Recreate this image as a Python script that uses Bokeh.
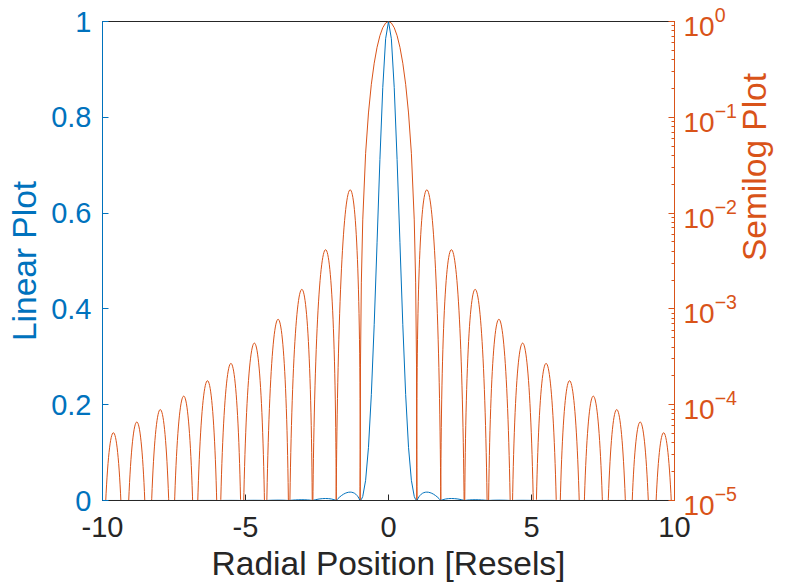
import math
import numpy as np
from bokeh.plotting import figure
from bokeh.models import Range1d, LinearAxis, LogAxis, LogScale, FixedTicker, LogTicker
from bokeh.embed import file_html
from bokeh.resources import INLINE

# ---- data (Airy pattern, intensity vs radial position in resels) ----
# central lobe samples (shared by both curves)
main_x = [-1.00, -0.98, -0.95, -0.90, -0.80, -0.70, -0.60, -0.50, -0.40, -0.30, -0.20, -0.10, 0.00,
          0.10, 0.20, 0.30, 0.40, 0.50, 0.60, 0.70, 0.80, 0.90, 0.95, 0.98, 1.00]
main_i = [1e-8, 2.6e-4, 1.87e-3, 8.5e-3, 0.0421, 0.111, 0.221, 0.367, 0.538, 0.712, 0.862, 0.964, 1.0,
          0.964, 0.862, 0.712, 0.538, 0.367, 0.221, 0.111, 0.0421, 8.5e-3, 1.87e-3, 2.6e-4, 1e-8]

# side lobes: left zero, right zero, peak position, peak intensity
lobe_x0 = [-10.04, -9.22, -8.40, -7.58, -6.76, -5.94, -5.12, -4.30, -3.48, -2.66, -1.83,
           1.00, 1.83, 2.66, 3.48, 4.30, 5.12, 5.94, 6.76, 7.58, 8.40, 9.22]
lobe_x1 = [-9.22, -8.40, -7.58, -6.76, -5.94, -5.12, -4.30, -3.48, -2.66, -1.83, -1.00,
           1.83, 2.66, 3.48, 4.30, 5.12, 5.94, 6.76, 7.58, 8.40, 9.22, 10.04]
lobe_xp = [-9.62, -8.80, -7.98, -7.16, -6.33, -5.51, -4.69, -3.86, -3.03, -2.20, -1.34,
           1.34, 2.20, 3.03, 3.86, 4.69, 5.51, 6.33, 7.16, 7.98, 8.80, 9.62]
lobe_peak = [5.1e-5, 6.6e-5, 8.9e-5, 1.23e-4, 1.78e-4, 2.7e-4, 4.4e-4, 7.8e-4, 1.6e-3, 4.15e-3, 1.75e-2,
             1.75e-2, 4.15e-3, 1.6e-3, 7.8e-4, 4.4e-4, 2.7e-4, 1.78e-4, 1.23e-4, 8.9e-5, 6.6e-5, 5.1e-5]

x_ticks = [-10, -5, 0, 5, 10]
x_tick_labels = ["-10", "-5", "0", "5", "10"]
y_ticks = [0, 0.2, 0.4, 0.6, 0.8, 1.0]

BLUE = "#0072BD"
ORANGE = "#D95319"
DARK = "#262626"
FONT = "Liberation Sans"
TICK_FS = "29px"
LABEL_FS = "33.5px"

W, H = 794, 587
FRAME_L, FRAME_R = 102, 685
p = figure(width=W, height=H, x_range=Range1d(-10, 10), y_range=Range1d(0, 1),
           output_backend="svg", toolbar_location=None,
           min_border_left=FRAME_L, min_border_right=W - FRAME_R, min_border_top=21, min_border_bottom=H - 500,
           x_axis_location=None, y_axis_location=None)
p.extra_y_ranges = {"log": Range1d(1e-5, 1)}
p.extra_y_scales = {"log": LogScale()}
p.grid.visible = False
p.outline_line_color = DARK
p.outline_line_width = 1
p.background_fill_color = "white"
p.border_fill_color = "white"

# axes
xa = LinearAxis(ticker=FixedTicker(ticks=x_ticks), axis_label="Radial Position [Resels]")
xa.major_label_overrides = {t: s for t, s in zip(x_ticks, x_tick_labels)}
ya = LinearAxis(ticker=FixedTicker(ticks=y_ticks), axis_label="Linear Plot")
ra = LogAxis(y_range_name="log", ticker=LogTicker(num_minor_ticks=10), axis_label="Semilog Plot")

for ax, col in ((xa, DARK), (ya, BLUE), (ra, ORANGE)):
    ax.axis_line_color = col
    ax.axis_line_width = 1
    ax.major_tick_line_color = col
    ax.major_tick_in = 6
    ax.major_tick_out = 0
    ax.minor_tick_line_color = None
    ax.major_label_text_color = col
    ax.major_label_text_font = FONT
    ax.major_label_text_font_size = TICK_FS
    ax.axis_label_text_color = col
    ax.axis_label_text_font = FONT
    ax.axis_label_text_font_size = LABEL_FS
    ax.axis_label_text_font_style = "normal"
    ax.major_label_standoff = 11
    ax.axis_label_standoff = 3

ya.axis_label_standoff = 5
ra.minor_tick_line_color = ORANGE
ra.minor_tick_in = 3
ra.minor_tick_out = 0
# right title reads bottom-to-top (it is centred on its standoff position)
ra.axis_label_orientation = math.pi / 2
ra.axis_label_standoff = 15
ra.major_label_standoff = 9
ra.major_label_text_font_size = "28px"
xa.major_label_standoff = 16
xa.axis_label_standoff = 5

p.add_layout(xa, "below")
p.add_layout(ya, "left")
p.add_layout(ra, "right")

# ---- curves ----
x0 = np.array(lobe_x0)
x1 = np.array(lobe_x1)
xp = np.array(lobe_xp)
pk = np.array(lobe_peak)
shift = (4.0 / 3.0) * (xp - (x0 + x1) / 2.0)
depth = 10 ** 3.3

# semilog (orange, right axis)
p.bezier(x0=x0, y0=pk / depth, x1=x1, y1=pk / depth,
         cx0=x0 + shift, cy0=pk * depth ** (1.0 / 3.0),
         cx1=x1 + shift, cy1=pk * depth ** (1.0 / 3.0),
         y_range_name="log", line_color=ORANGE, line_width=1)
p.line(main_x, main_i, y_range_name="log", line_color=ORANGE, line_width=1)

# linear (blue, left axis)
w = x1 - x0
p.bezier(x0=x0, y0=np.zeros_like(pk), x1=x1, y1=np.zeros_like(pk),
         cx0=x0 + 0.3 * w + shift, cy0=pk * 4.0 / 3.0,
         cx1=x1 - 0.3 * w + shift, cy1=pk * 4.0 / 3.0,
         line_color=BLUE, line_width=1)
p.line(main_x, main_i, line_color=BLUE, line_width=1)

open("out.html", "w").write(file_html(p, INLINE))
